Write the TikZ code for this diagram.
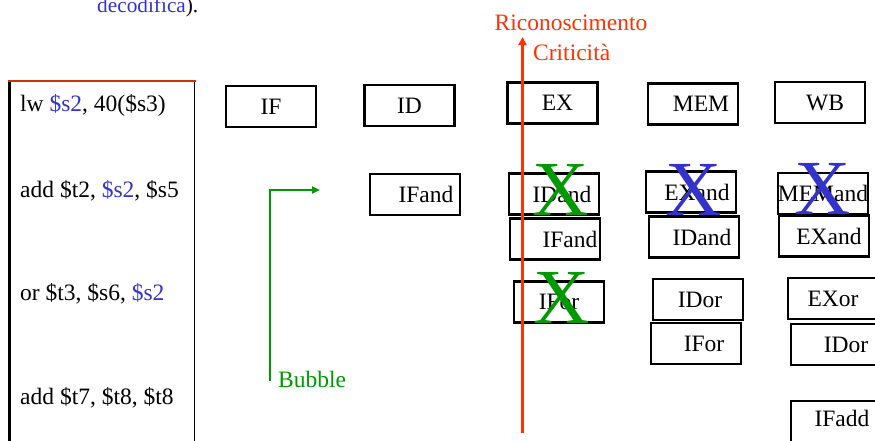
\documentclass[tikz,border=0pt]{standalone}
\usepackage{fontspec}
\setmainfont{Liberation Serif}
\usetikzlibrary{arrows.meta}
\definecolor{regblue}{RGB}{51,51,204}
\definecolor{bubgreen}{RGB}{0,153,0}
\definecolor{critred}{RGB}{255,51,0}
\definecolor{topred}{RGB}{204,51,0}
\tikzset{
  stagebox/.style={draw=black, line width=2.5pt, minimum width=90pt, minimum height=41pt, inner sep=0pt, font=\fontsize{23.5}{26}\selectfont},
  instr/.style={anchor=base west, inner sep=0pt, font=\fontsize{23.5}{26}\selectfont},
  bigx/.style={anchor=base, inner sep=0pt, font=\fontsize{78}{80}\selectfont},
}
\newcommand{\sh}[1]{\hspace*{#1pt}}
\begin{document}
\begin{tikzpicture}[x=1pt, y=-1pt]
\useasboundingbox (0,0) rectangle (875,440);
\begin{scope}
\clip (0,0) rectangle (875,440);
% top text
\node[anchor=base west, inner sep=0pt, font=\fontsize{21.3}{24}\selectfont] (dec) at (97,12) {\textcolor{regblue}{decodifica}).};
% instruction box
\coordinate (bl) at (9.5,445);
\coordinate (tl) at (9.5,81.5);
\coordinate (tr) at (194.5,81.5);
\coordinate (br) at (194.5,445);
\draw[line width=3pt] (bl) -- (tl);
\draw[line width=1.5pt] (tr) -- (br);
\draw[topred, line width=2.2pt] (8,81) -- (195.5,81);
\node[instr] (i1) at (20,111) {lw \textcolor{regblue}{\$s2}, 40(\$s3)};
\node[instr] (i2) at (20,197) {add \$t2, \textcolor{regblue}{\$s2}, \$s5};
\node[instr] (i3) at (20,300) {or \$t3, \$s6, \textcolor{regblue}{\$s2}};
\node[instr] (i4) at (20,404) {add \$t7, \$t8, \$t8};
% row 0
\node[stagebox] (if0) at (271,106.5) {IF};
\node[stagebox] (id0) at (409.5,105.5) {ID};
\node[stagebox] (ex0) at (552.5,103) {\sh{10}EX};
\node[stagebox] (mem0) at (693,104) {\sh{16}MEM};
\node[stagebox] (wb0) at (820,102.5) {\sh{10}WB};
% row 1
\node[stagebox] (if1) at (415,194.5) {\sh{22}IFand};
\node[stagebox] (id1) at (554,194) {\sh{16}IDand};
\node[stagebox] (ex1) at (691,192) {\sh{12}EXand};
\node[stagebox] (mem1) at (823,193.5) {MEMand};
% row 1b
\node[stagebox] (if1b) at (555,239) {\sh{30}IFand};
\node[stagebox] (id1b) at (694,237) {\sh{16}IDand};
\node[stagebox] (ex1b) at (824,236) {\sh{10}EXand};
% row 2
\node[stagebox] (if2) at (559,302) {IFor};
\node[stagebox] (id2) at (698,299.5) {\sh{4}IDor};
\node[stagebox] (ex2) at (833,298.5) {EXor};
% row 2b
\node[stagebox] (if2b) at (696,343.5) {\sh{16}IFor};
\node[stagebox] (id2b) at (836,344.5) {\sh{20}IDor};
% row 3
\node[stagebox, minimum height=50pt] (if3) at (836,426) {};
\node[anchor=base, inner sep=0pt, font=\fontsize{23.5}{26}\selectfont] (if3t) at (842,426) {IFadd};
% big crosses
\node[bigx, bubgreen] (x1) at (560.5,215) {X};
\node[bigx, regblue] (x2) at (693.5,215) {X};
\node[bigx, regblue] (x3) at (822.5,214) {X};
\node[bigx, bubgreen] (x4) at (562,323) {X};
% bubble
\coordinate (bb) at (270,381);
\coordinate (bc) at (270,190);
\coordinate (be) at (320,190);
\draw[bubgreen, line width=2pt, -{Triangle[length=8pt,width=7pt]}] (bb) -- (bc) -- (be);
\node[anchor=base west, inner sep=0pt, text=bubgreen, font=\fontsize{23.5}{26}\selectfont] (bub) at (278,387) {Bubble};
% criticality arrow
\node[anchor=base west, inner sep=0pt, text=critred, font=\fontsize{23.5}{26}\selectfont] (ric) at (494.5,30) {Riconoscimento};
\node[anchor=base west, inner sep=0pt, text=critred, font=\fontsize{23.5}{26}\selectfont] (cri) at (533,60) {Criticità};
\coordinate (rb) at (522.5,433);
\coordinate (rt) at (522.5,37);
\draw[critred, line width=2.5pt, -{Triangle[length=8pt,width=8pt]}] (rb) -- (rt);
\end{scope}
\end{tikzpicture}
\end{document}
